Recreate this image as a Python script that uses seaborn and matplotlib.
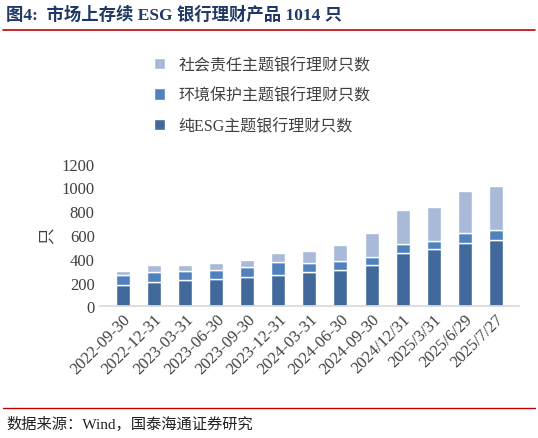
import matplotlib
matplotlib.use("Agg")
import matplotlib.pyplot as plt
import seaborn as sns
import numpy as np
import pandas as pd

dates = ["2022-09-30", "2022-12-31", "2023-03-31", "2023-06-30", "2023-09-30", "2023-12-31",
         "2024-03-31", "2024-06-30", "2024-09-30", "2024/12/31", "2025/3/31", "2025/6/29", "2025/7/27"]
pure_esg = [180, 206, 218, 232, 244, 261, 292, 309, 344, 450, 481, 533, 556]
env_total = [261, 289, 298, 309, 327, 370, 367, 384, 413, 524, 547, 619, 642]
all_total = [301, 344, 347, 364, 393, 447, 461, 519, 616, 811, 837, 968, 1014]

env = list(np.array(env_total) - np.array(pure_esg))
social = list(np.array(all_total) - np.array(env_total))

sns.set_theme(style="white")
plt.rcParams['font.family'] = ['Liberation Serif', 'Noto Sans CJK SC']

c_pure, c_env, c_soc = '#41699c', '#4f81bd', '#a9b9d8'

fig = plt.figure(figsize=(5.38, 4.39), dpi=100)
ax = fig.add_axes([0.185, 0.30, 0.78, 0.325])

df = pd.DataFrame({"date": dates, "pure": pure_esg, "env": env, "soc": social})
x = np.arange(len(dates))
ax.bar(x, df["pure"], width=0.45, color=c_pure, label="纯ESG主题银行理财只数")
ax.bar(x, df["env"], width=0.45, bottom=df["pure"], color=c_env, label="环境保护主题银行理财只数")
ax.bar(x, df["soc"], width=0.45, bottom=df["pure"] + df["env"], color=c_soc, label="社会责任主题银行理财只数")

ax.set_ylim(0, 1200)
ax.set_yticks(range(0, 1201, 200))
ax.set_xlim(-0.75, len(dates) - 0.25)
ax.set_xticks(x)
ax.set_xticklabels(dates, rotation=45, ha='right', rotation_mode='anchor')
ax.tick_params(axis='both', labelsize=12, colors='#404040', length=0)
ax.set_ylabel("只", fontsize=12, color='#404040', rotation=90)
for s in ['top', 'right', 'left']:
    ax.spines[s].set_visible(False)
ax.spines['bottom'].set_color('#d9d9d9')

handles, labels = ax.get_legend_handles_labels()
fig.legend(handles[::-1], labels[::-1], loc='upper left', bbox_to_anchor=(0.26, 0.9),
           frameon=False, fontsize=11.5, labelspacing=0.9, handlelength=0.7, handleheight=0.7,
           labelcolor='#404040')

fig.text(0.012, 0.965, "图4:  市场上存续 ESG 银行理财产品 1014 只", fontsize=12.5,
         fontweight='bold', color='#1f3864', va='center')
fig.add_artist(plt.Line2D([0.005, 0.995], [0.93, 0.93], color='#c00000', lw=1.2))
fig.add_artist(plt.Line2D([0.005, 0.995], [0.068, 0.068], color='#c00000', lw=1.0))
fig.text(0.012, 0.033, "数据来源：Wind，国泰海通证券研究", fontsize=11, color='#222222', va='center')

fig.savefig("out.png", dpi=100)
